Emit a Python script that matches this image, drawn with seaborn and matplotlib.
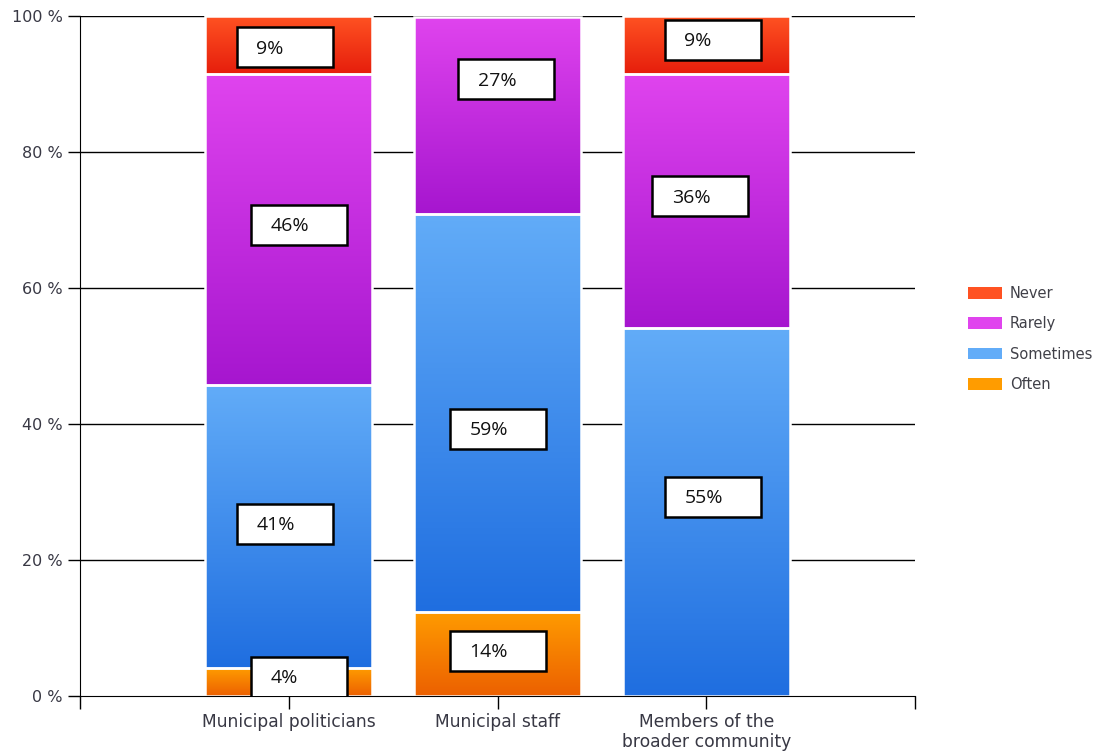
import numpy as np
import pandas as pd
import matplotlib
matplotlib.use("Agg")
import matplotlib.pyplot as plt
import seaborn as sns
from matplotlib.colors import LinearSegmentedColormap
from matplotlib.patches import Rectangle, Patch

# datos
categorias = ["Municipal politicians", "Municipal staff", "Members of the\nbroader community"]
series = ["Often", "Sometimes", "Rarely", "Never"]
often = [4.1, 12.4, 0.0]
sometimes = [41.6, 58.5, 54.1]
rarely = [45.8, 29.0, 37.4]
never = [8.5, 0.1, 8.5]
etiquetas = [["4%", "41%", "46%", "9%"],
             ["14%", "59%", "27%", ""],
             ["", "55%", "36%", "9%"]]

# colores (arriba claro, abajo oscuro)
colores = {
    "Often": ("#ff9c00", "#ec6000"),
    "Sometimes": ("#62acf8", "#1f6ee0"),
    "Rarely": ("#e044ee", "#a616cf"),
    "Never": ("#ff5222", "#e61e0c"),
}
# posiciones de las cajas de texto (desplazamiento x, altura y en %)
cajas = [[(0.05, 2.8), (-0.02, 25.3), (0.05, 69.3), (-0.02, 95.4)],
         [(0.0, 6.6), (0.0, 39.3), (0.04, 90.7), None],
         [None, (0.03, 29.3), (-0.03, 73.5), (0.03, 96.5)]]

valores = {"Often": often, "Sometimes": sometimes, "Rarely": rarely, "Never": never}

sns.set_style("white")
plt.rcParams['font.family'] = ['DejaVu Sans']

fig = plt.figure(figsize=(11.04, 7.55), dpi=100)
ax = fig.add_axes([80 / 1104, 1 - 696 / 755, 835 / 1104, 680 / 755])

# lineas de la cuadricula detras de las barras
for yv in [20, 40, 60, 80, 100]:
    ax.axhline(yv, color="black", lw=1, zorder=0.5)

base = np.zeros(len(categorias))
for s in series:
    df = pd.DataFrame({"pos": [1, 2, 3], "valor": valores[s]})
    n_antes = len(ax.patches)
    sns.barplot(data=df, x="pos", y="valor", bottom=base, native_scale=True,
                width=0.8, color=colores[s][0], ax=ax, zorder=2)
    parches = ax.patches[n_antes:]
    cmap = LinearSegmentedColormap.from_list(s, [colores[s][1], colores[s][0]])
    grad = np.linspace(0, 1, 256).reshape(-1, 1)
    for p in parches:
        x0, y0 = p.get_x(), p.get_y()
        w, h = p.get_width(), p.get_height()
        if h <= 0.2:
            p.set_visible(False)
            continue
        p.set_facecolor("none")
        p.set_edgecolor("white")
        p.set_linewidth(1.8)
        im = ax.imshow(grad, cmap=cmap, aspect="auto", origin="lower",
                       extent=[x0, x0 + w, y0, y0 + h], zorder=1.5)
        im.set_clip_path(p)
    base = base + np.array(valores[s])

# cajas con etiquetas
caja_w = 96 / 208.75
caja_h = 40 / 6.8
for i in range(len(categorias)):
    for j in range(len(series)):
        if cajas[i][j] is None or etiquetas[i][j] == "":
            continue
        dx, yc = cajas[i][j]
        xl = i + 1 + dx - caja_w / 2
        ax.add_patch(Rectangle((xl, yc - caja_h / 2), caja_w, caja_h,
                               facecolor="white", edgecolor="black", lw=1.8, zorder=5))
        ax.text(xl + 0.095, yc - 0.2, etiquetas[i][j], ha="left", va="center",
                fontsize=14, family="Open Sans", color="#111111", zorder=6)

ax.set_xlim(0, 4)
ax.set_ylim(0, 100)
ax.set_xticks([0, 1, 2, 3, 4])
ax.set_xticklabels([""] + categorias + [""])
ax.set_yticks([0, 20, 40, 60, 80, 100])
ax.set_yticklabels(["0 %", "20 %", "40 %", "60 %", "80 %", "100 %"])
ax.tick_params(axis="both", direction="out", length=9, width=1, color="black",
               labelcolor="#383844", labelsize=11.5, bottom=True, left=True)
ax.tick_params(axis="x", pad=3, labelsize=12.3)
ax.set_xlabel("")
ax.set_ylabel("")
ax.grid(False)
for lado in ["top", "right"]:
    ax.spines[lado].set_visible(False)
ax.spines["left"].set_color("black")
ax.spines["bottom"].set_color("black")
ax.spines["left"].set_zorder(3)
ax.spines["bottom"].set_zorder(3)

handles = [Patch(facecolor=colores[s][0], edgecolor="none") for s in reversed(series)]
leg = fig.legend(handles, list(reversed(series)), loc="center left",
                 bbox_to_anchor=(955 / 1104, 1 - 339 / 755), frameon=False,
                 fontsize=10.5, handlelength=2.3, handleheight=0.85,
                 labelspacing=1.05, handletextpad=0.55)
for t in leg.get_texts():
    t.set_color("#404048")

fig.savefig("out.png", dpi=100)
